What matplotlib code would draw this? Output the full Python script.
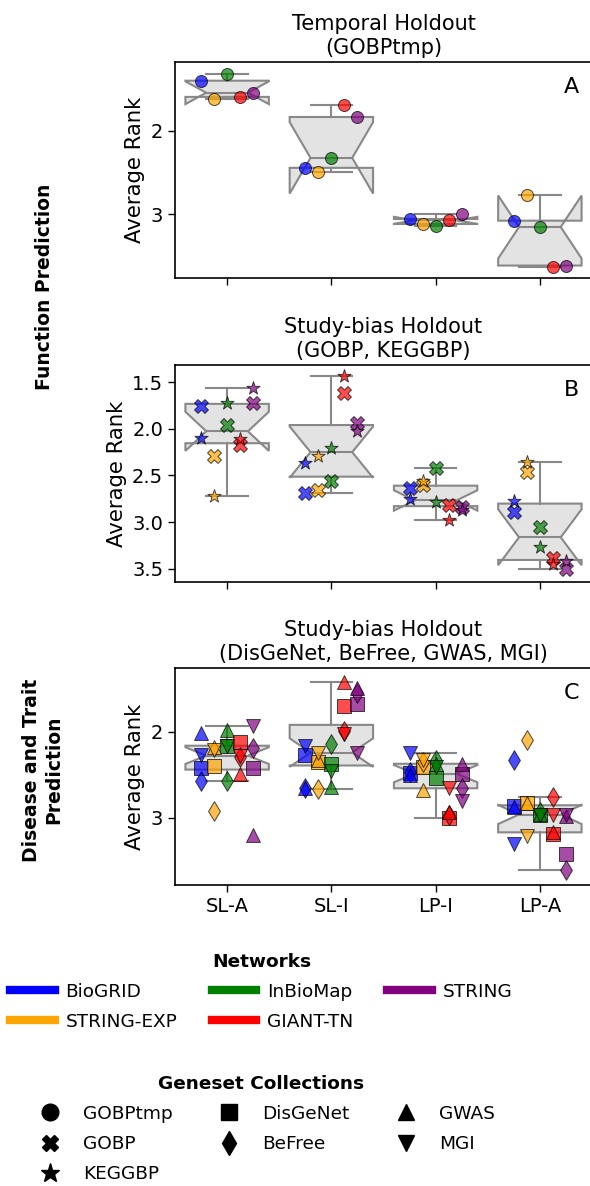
import matplotlib
matplotlib.use('Agg')
import matplotlib.pyplot as plt
import numpy as np
from matplotlib.lines import Line2D

plt.rcParams['font.family'] = ['DejaVu Sans']

# ---------------- data ----------------
methods = ['SL-A', 'SL-I', 'LP-I', 'LP-A']
networks = ['BioGRID', 'STRING-EXP', 'InBioMap', 'GIANT-TN', 'STRING']
net_colors = ['blue', 'orange', 'green', 'red', 'purple']

genesets = ['GOBPtmp', 'GOBP', 'KEGGBP', 'DisGeNet', 'BeFree', 'GWAS', 'MGI']
geneset_markers = ['o', 'X', '*', 's', 'd', '^', 'v']

# rows: networks (BioGRID, STRING-EXP, InBioMap, GIANT-TN, STRING); cols: methods
gobptmp = [
    [1.395, 2.444, 3.060, 3.080],
    [1.611, 2.500, 3.120, 2.776],
    [1.320, 2.324, 3.140, 3.156],
    [1.590, 1.688, 3.076, 3.633],
    [1.540, 1.832, 2.996, 3.620],
]
gobp = [
    [1.760, 2.687, 2.637, 2.894],
    [2.295, 2.659, 2.600, 2.466],
    [1.956, 2.562, 2.423, 3.055],
    [2.170, 1.618, 2.815, 3.386],
    [1.725, 1.938, 2.833, 3.500],
]
keggbp = [
    [2.099, 2.366, 2.755, 2.770],
    [2.723, 2.295, 2.560, 2.352],
    [1.725, 2.206, 2.780, 3.268],
    [2.110, 1.432, 2.976, 3.447],
    [1.564, 2.028, 2.870, 3.410],
]
disgenet = [
    [2.42, 2.265, 2.48, 2.86],
    [2.40, 2.35, 2.41, 2.83],
    [2.16, 2.37, 2.53, 2.96],
    [2.12, 1.70, 3.00, 3.19],
    [2.42, 1.67, 2.49, 3.42],
]
befree = [
    [2.565, 2.65, 2.46, 2.33],
    [2.92, 2.66, 2.35, 2.09],
    [2.57, 2.14, 2.33, 2.93],
    [2.29, 1.99, 2.96, 2.76],
    [2.19, 1.55, 2.65, 3.61],
]
gwas = [
    [2.01, 2.65, 2.50, 2.87],
    [2.17, 2.33, 2.67, 2.83],
    [1.98, 2.64, 2.37, 2.95],
    [2.49, 1.42, 2.93, 3.16],
    [3.20, 1.49, 2.37, 2.98],
]
mgi = [
    [2.27, 2.16, 2.25, 3.30],
    [2.21, 2.24, 2.33, 3.21],
    [2.16, 2.45, 2.41, 2.97],
    [2.28, 2.02, 2.65, 2.96],
    [1.93, 2.24, 2.80, 2.96],
]

panels = [
    dict(title='Temporal Holdout\n(GOBPtmp)', letter='A',
         series=[(gobptmp, 'GOBPtmp')], yticks=[2, 3], ylim=(3.77, 1.17)),
    dict(title='Study-bias Holdout\n(GOBP, KEGGBP)', letter='B',
         series=[(gobp, 'GOBP'), (keggbp, 'KEGGBP')],
         yticks=[1.5, 2.0, 2.5, 3.0, 3.5], ylim=(3.64, 1.318)),
    dict(title='Study-bias Holdout\n(DisGeNet, BeFree, GWAS, MGI)', letter='C',
         series=[(disgenet, 'DisGeNet'), (befree, 'BeFree'), (gwas, 'GWAS'), (mgi, 'MGI')],
         yticks=[2, 3], ylim=(3.78, 1.256)),
]

marker_sizes = {'o': 75, 'X': 100, '*': 100, 's': 100, 'd': 100, '^': 100, 'v': 100}

# ---------------- figure ----------------
W, H = 590, 1186
fig = plt.figure(figsize=(W / 100, H / 100), dpi=100)

ax_left = 175 / W
ax_width = 417 / W
ax_rows = [(62, 278), (365, 582), (668, 885)]

box_face = '#e3e3e3'
box_edge = '#888888'
pos = np.arange(len(methods))
n_net = len(networks)
dodge = 0.125

for k, (p, (top, bot)) in enumerate(zip(panels, ax_rows)):
    ax = fig.add_axes([ax_left, 1 - bot / H, ax_width, (bot - top) / H])
    arr = np.array([np.array(v) for v, _ in p['series']])  # (nsets, nnet, nmeth)
    box_data = [arr[:, :, m].ravel() for m in range(len(methods))]
    ax.boxplot(box_data, positions=pos, widths=0.8, notch=True,
               patch_artist=True, showfliers=False,
               boxprops=dict(facecolor=box_face, edgecolor=box_edge, linewidth=1.5),
               whiskerprops=dict(color=box_edge, linewidth=1.5),
               capprops=dict(color=box_edge, linewidth=1.5),
               medianprops=dict(color=box_edge, linewidth=1.5),
               zorder=1)
    for vals, gs in p['series']:
        mk = geneset_markers[genesets.index(gs)]
        for ni in range(n_net):
            ax.scatter(pos + (ni - (n_net - 1) / 2) * dodge, vals[ni], marker=mk,
                       s=marker_sizes[mk], color=net_colors[ni], alpha=0.7,
                       edgecolors='black', linewidths=0.7, zorder=3)
    ax.set_xlim(-0.5, len(methods) - 0.5)
    ax.set_ylim(*p['ylim'])
    ax.set_yticks(p['yticks'])
    if k == 1:
        ax.set_yticklabels([f'{t:.1f}' for t in p['yticks']])
    ax.set_xticks(pos)
    if k == 2:
        ax.set_xticklabels(methods)
    else:
        ax.set_xticklabels([])
    ax.tick_params(labelsize=14, length=5, width=1)
    ax.set_ylabel('Average Rank', fontsize=15.3)
    ax.set_title(p['title'], fontsize=15)
    ax.text(0.97, 0.885, p['letter'], transform=ax.transAxes, ha='right',
            va='center', fontsize=16)
    for s in ax.spines.values():
        s.set_linewidth(1.2)

fig.text(45 / W, 1 - 287 / H, 'Function Prediction', rotation=90,
         ha='center', va='center', fontsize=13.5, fontweight='bold')
fig.text(43 / W, 1 - 770 / H, 'Disease and Trait\nPrediction', rotation=90,
         ha='center', va='center', multialignment='center',
         fontsize=13.5, fontweight='bold')

net_handles = [Line2D([0], [0], color=c, lw=6) for c in net_colors]
leg1 = fig.legend(net_handles, networks, ncol=3, loc='upper center',
                  bbox_to_anchor=(0.443, 1 - 936 / H), frameon=False,
                  fontsize=13.3, handlelength=2.4, handletextpad=0.6,
                  columnspacing=1.85, labelspacing=0.65, title='Networks',
                  title_fontproperties={'weight': 'bold', 'size': 13.3})

gs_handles = [Line2D([0], [0], marker=m, color='black', linestyle='None',
                     markersize=12 if m not in ('*',) else 14)
              for m in geneset_markers]
leg2 = fig.legend(gs_handles, genesets, ncol=3, loc='upper center',
                  bbox_to_anchor=(0.443, 1 - 1058 / H), frameon=False,
                  fontsize=13.3, handlelength=2.4, handletextpad=0.6,
                  columnspacing=1.85, labelspacing=0.66, title='Geneset Collections',
                  title_fontproperties={'weight': 'bold', 'size': 13.3})

fig.savefig('out.png', dpi=100)
